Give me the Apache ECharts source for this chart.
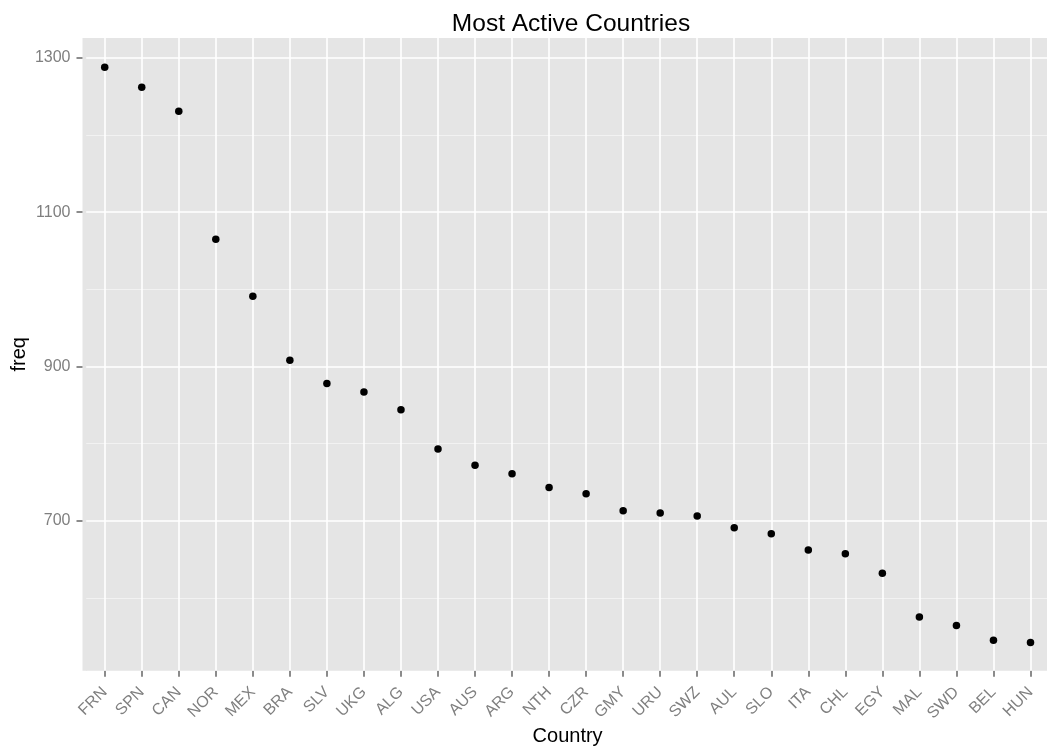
<!DOCTYPE html>
<html>
<head>
<meta charset="utf-8">
<script src="https://cdn.jsdelivr.net/npm/echarts@6/dist/echarts.min.js"></script>
<style>
html,body{margin:0;padding:0;background:#fff;}
#chart{width:1047px;height:747px;}
</style>
</head>
<body>
<div id="chart"></div>
<script>
const countries = ['FRN','SPN','CAN','NOR','MEX','BRA','SLV','UKG','ALG','USA','AUS','ARG','NTH','CZR','GMY','URU','SWZ','AUL','SLO','ITA','CHL','EGY','MAL','SWD','BEL','HUN'];
const freq = [1288,1262,1231,1065,991,908,878,867,844,793,772,761,743,735,713,710,706,691,683,662,657,632,575,564,545,542];
const majorTicks = [700,900,1100,1300];
const minorTicks = [600,800,1000,1200];

const FONT = '"Liberation Sans", Arial, Helvetica, sans-serif';
const chart = echarts.init(document.getElementById('chart'));

const gridLines = []
  .concat(minorTicks.map(v => ({yAxis: v, lineStyle: {color: '#F2F2F2', width: 1, type: 'solid'}})))
  .concat(majorTicks.map(v => ({yAxis: v, lineStyle: {color: '#FFFFFF', width: 1.6, type: 'solid'}})))
  .concat(countries.map(c => ({xAxis: c, lineStyle: {color: '#FFFFFF', width: 1.6, type: 'solid'}})));

chart.setOption({
  animation: false,
  backgroundColor: '#ffffff',
  title: {
    text: 'Most Active Countries',
    left: 566, top: 7, textAlign: 'center',
    textStyle: {fontFamily: FONT, fontSize: 24.5, fontWeight: 'normal', color: '#000'}
  },
  graphic: [{
    type: 'rect', z: -1, silent: true,
    shape: {x: 82.5, y: 38, width: 4.5, height: 632.7},
    style: {fill: '#E5E5E5'}
  }],
  grid: {
    left: 86.2, right: -2, top: 38, bottom: 76.3,
    outerBoundsMode: 'none',
    containLabel: false,
    show: true, backgroundColor: '#E5E5E5', borderWidth: 0
  },
  xAxis: {
    type: 'category',
    data: countries,
    boundaryGap: true,
    name: 'Country',
    nameLocation: 'middle',
    nameGap: 56,
    nameMoveOverlap: false,
    nameTextStyle: {fontFamily: FONT, fontSize: 20, color: '#000'},
    axisLine: {show: false},
    axisTick: {show: true, alignWithLabel: true, length: 6, lineStyle: {color: '#666666', width: 1.5}},
    axisLabel: {rotate: 45, margin: 19, fontFamily: FONT, fontSize: 16, color: '#7F7F7F', interval: 0},
    splitLine: {show: false}
  },
  yAxis: {
    type: 'value',
    min: 505.5, max: 1325.9,
    offset: 3.7,
    name: 'freq',
    nameLocation: 'middle',
    nameGap: 53,
    nameMoveOverlap: false,
    nameRotate: 90,
    nameTextStyle: {fontFamily: FONT, fontSize: 20, color: '#000'},
    axisLine: {show: false},
    axisTick: {show: true, length: 6, customValues: majorTicks, lineStyle: {color: '#666666', width: 1.5}},
    axisLabel: {margin: 12, customValues: majorTicks, formatter: v => String(v), fontFamily: FONT, fontSize: 16, color: '#7F7F7F'},
    splitLine: {show: false}
  },
  series: [
    {
      type: 'scatter',
      data: [],
      z: 1,
      silent: true,
      markLine: {
        silent: true,
        symbol: ['none', 'none'],
        label: {show: false},
        emphasis: {disabled: true},
        animation: false,
        data: gridLines
      }
    },
    {
      type: 'scatter',
      z: 5,
      data: freq,
      symbol: 'circle',
      symbolSize: 7.5,
      itemStyle: {color: '#000000', opacity: 1},
      emphasis: {disabled: true}
    }
  ]
});
</script>
</body>
</html>
